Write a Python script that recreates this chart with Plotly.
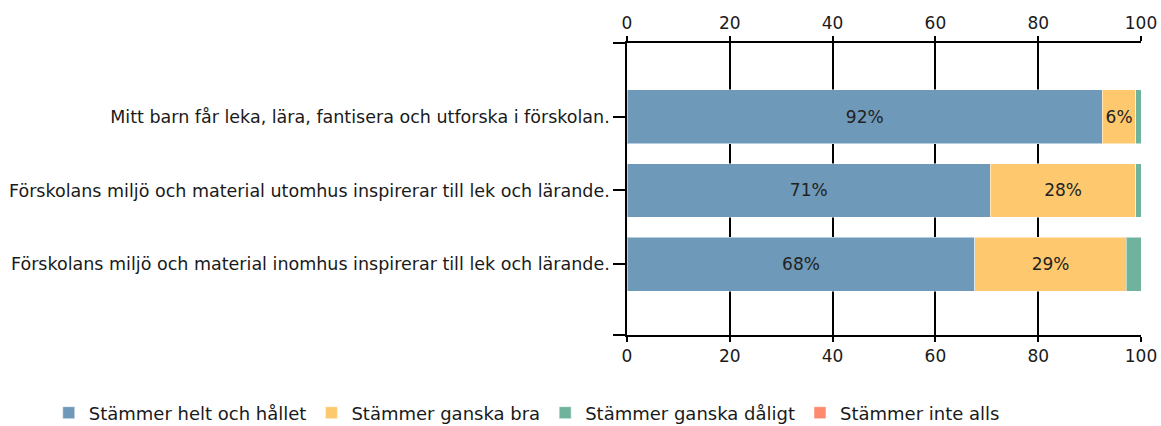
import plotly.graph_objects as go

categories = [
    "Mitt barn får leka, lära, fantisera och utforska i förskolan.",
    "Förskolans miljö och material utomhus inspirerar till lek och lärande.",
    "Förskolans miljö och material inomhus inspirerar till lek och lärande.",
]
series_names = ["Stämmer helt och hållet", "Stämmer ganska bra", "Stämmer ganska dåligt", "Stämmer inte alls"]
helt = [92.49, 70.7, 67.7]
bra = [6.49, 28.3, 29.4]
daligt = [1.02, 1.0, 2.9]
inte = [0.0, 0.0, 0.0]
colors = ["#6e99b8", "#fec96e", "#6fb39d", "#fd8a6d"]
ticks_x = [0, 20, 40, 60, 80, 100]

FONT = "DejaVu Sans"
TXT = "#1a1a1a"
ypos = [1, 2, 3]

fig = go.Figure()
for name, vals, col in zip(series_names, [helt, bra, daligt, inte], colors):
    txt = [f"{v:.0f}%" if v >= 5 else "" for v in vals]
    fig.add_trace(go.Bar(
        y=ypos, x=vals, orientation="h", name=name,
        marker=dict(color=col, line=dict(color="rgba(255,255,255,0.5)", width=1)),
        width=0.73, text=txt, textposition="inside", insidetextanchor="middle",
        textfont=dict(family=FONT, size=17, color="#222222"),
        constraintext="none", hoverinfo="x+name",
    ))

# invisible helper trace for top axis
fig.add_trace(go.Scatter(x=[0, 100], y=[1, 1], xaxis="x2", mode="markers",
                         marker=dict(opacity=0), showlegend=False, hoverinfo="skip"))

axis_common = dict(range=[0, 100], tickvals=ticks_x, showline=True, linecolor="black", linewidth=1.5,
                   ticks="outside", ticklen=5, tickwidth=1.5, tickcolor="black", automargin=False,
                   tickfont=dict(family=FONT, size=17, color=TXT), zeroline=False, fixedrange=True)

fig.update_layout(
    width=1161, height=426,
    barmode="stack",
    plot_bgcolor="white", paper_bgcolor="white",
    margin=dict(l=627, r=20, t=43, b=91, autoexpand=False),
    font=dict(family=FONT, size=17, color=TXT),
    xaxis=dict(**axis_common, side="bottom", showgrid=True, gridcolor="black", gridwidth=1.5),
    xaxis2=dict(**axis_common, side="top", overlaying="x", showgrid=False, anchor="y"),
    yaxis=dict(range=[3.96, 0], tickvals=[0] + ypos + [3.96], ticktext=[""] + categories + [""],
               showline=True, linecolor="black", linewidth=1.5, ticks="outside", ticklen=12,
               tickwidth=1.5, tickcolor="black", showgrid=False, zeroline=False, automargin=False,
               fixedrange=True, tickfont=dict(family=FONT, size=17.5, color=TXT)),
    legend=dict(orientation="h", x=-1.125, xanchor="left", y=-0.267, yanchor="middle",
                font=dict(family=FONT, size=18, color=TXT), traceorder="normal"),
    showlegend=True,
)

fig.write_html("out.html", config={"displayModeBar": False},
               post_script="document.body.style.margin='0';document.body.style.padding='0';")
